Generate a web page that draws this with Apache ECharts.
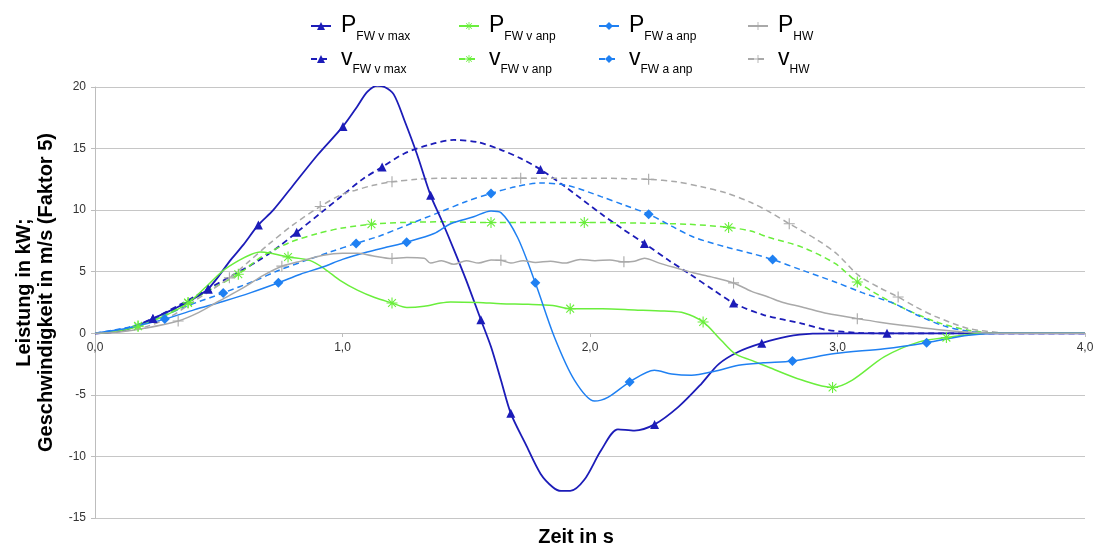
<!DOCTYPE html>
<html>
<head>
<meta charset="utf-8">
<script src="https://cdn.jsdelivr.net/npm/echarts@6/dist/echarts.min.js"></script>
<style>
  html, body { margin: 0; padding: 0; background: #fff; }
  #chart { width: 1094px; height: 544px; }
</style>
</head>
<body>
<div id="chart"></div>
<script>
// ── Daten ─────────────────────────────────────────────────────────
// [Zeit in s, Wert]
const pFwVmax = [[0,0],[0.05,0.05],[0.1,0.2],[0.17,0.6],[0.234,1.2],[0.3,1.8],[0.38,2.6],[0.457,3.6],[0.55,6.0],[0.6,7.2],[0.66,8.8],[0.72,10.0],[0.8,12.0],[0.9,14.5],[1.002,16.8],[1.059,18.4],[1.1,19.6],[1.14,20.1],[1.17,20.0],[1.207,19.4],[1.25,17.3],[1.3,14.6],[1.356,11.2],[1.4,9.2],[1.45,6.8],[1.5,4.3],[1.559,1.1],[1.6,-1.1],[1.64,-3.8],[1.68,-6.5],[1.74,-9.0],[1.8,-11.4],[1.85,-12.5],[1.883,-12.8],[1.92,-12.8],[1.977,-11.9],[2.045,-9.5],[2.113,-7.8],[2.18,-7.9],[2.261,-7.4],[2.356,-6.0],[2.45,-4.1],[2.52,-2.5],[2.6,-1.5],[2.694,-0.8],[2.8,-0.25],[2.9,-0.03],[3.0,0],[3.2,0],[3.6,0],[4.0,0]];
const pFwVmaxMarks = [0.234,0.457,0.66,1.002,1.356,1.559,1.68,2.261,2.694,3.2];

const vFwVmax = [[0,0],[0.1,0.2],[0.234,1.2],[0.35,2.4],[0.457,3.6],[0.6,5.2],[0.653,5.8],[0.74,7.0],[0.815,8.2],[0.92,9.9],[1.0,11.2],[1.08,12.5],[1.16,13.5],[1.25,14.6],[1.35,15.3],[1.45,15.7],[1.55,15.5],[1.64,14.9],[1.72,14.2],[1.8,13.3],[1.9,11.9],[2.045,9.7],[2.13,8.5],[2.22,7.3],[2.32,5.9],[2.4,4.85],[2.5,3.5],[2.58,2.46],[2.7,1.5],[2.856,0.79],[2.95,0.3],[3.09,0.03],[3.2,0],[4.0,0]];
const vFwVmaxMarks = [0.234,0.457,0.815,1.16,1.8,2.22,2.58];

const pFwVanp = [[0,0],[0.08,0.15],[0.174,0.57],[0.28,1.4],[0.376,2.46],[0.45,3.8],[0.518,5.1],[0.58,5.9],[0.63,6.4],[0.667,6.6],[0.71,6.5],[0.78,6.2],[0.87,5.9],[0.93,5.2],[0.99,4.3],[1.06,3.5],[1.13,2.9],[1.2,2.46],[1.26,2.1],[1.33,2.2],[1.396,2.46],[1.437,2.55],[1.55,2.5],[1.64,2.4],[1.75,2.35],[1.85,2.25],[1.92,2.0],[2.05,2.0],[2.18,1.9],[2.3,1.8],[2.38,1.65],[2.457,0.92],[2.53,-0.57],[2.585,-1.65],[2.653,-2.2],[2.72,-2.74],[2.856,-3.8],[2.98,-4.4],[3.06,-3.8],[3.19,-1.9],[3.33,-0.7],[3.44,-0.35],[3.6,0],[4.0,0]];
const pFwVanpMarks = [0.174,0.376,0.78,1.2,1.92,2.457,2.98,3.44];

const vFwVanp = [[0,0],[0.08,0.15],[0.174,0.6],[0.28,1.5],[0.376,2.5],[0.48,3.7],[0.579,4.8],[0.68,6.3],[0.79,7.4],[0.9,8.1],[1.0,8.55],[1.117,8.86],[1.25,9.0],[1.396,9.05],[1.6,9.0],[1.8,9.0],[1.977,9.0],[2.2,8.95],[2.4,8.85],[2.56,8.6],[2.65,8.3],[2.72,7.8],[2.856,7.0],[2.99,5.67],[3.08,4.17],[3.23,2.4],[3.4,0.92],[3.53,0.24],[3.64,0.02],[3.75,0],[4.0,0]];
const vFwVanpMarks = [0.174,0.376,0.579,1.117,1.6,1.977,2.56,3.08];

const pFwAanp = [[0,0],[0.1,0.3],[0.2,0.75],[0.282,1.15],[0.4,1.9],[0.52,2.6],[0.63,3.3],[0.741,4.1],[0.83,4.8],[0.923,5.4],[1.0,6.0],[1.1,6.6],[1.18,7.0],[1.259,7.4],[1.37,8.1],[1.437,8.9],[1.53,9.46],[1.6,9.94],[1.64,9.8],[1.707,7.8],[1.779,4.1],[1.856,-0.3],[1.937,-3.8],[2.018,-5.5],[2.072,-5.2],[2.16,-3.96],[2.26,-3.0],[2.33,-3.3],[2.41,-3.4],[2.5,-3.1],[2.6,-2.6],[2.7,-2.4],[2.818,-2.25],[2.99,-1.65],[3.19,-1.25],[3.36,-0.76],[3.53,-0.16],[3.66,0],[4.0,0]];
const pFwAanpMarks = [0.282,0.741,1.259,1.779,2.16,2.818,3.36];

const vFwAanp = [[0,0],[0.135,0.5],[0.25,1.2],[0.37,2.2],[0.518,3.28],[0.65,4.3],[0.741,5.1],[0.85,5.9],[0.95,6.6],[1.055,7.3],[1.15,7.9],[1.25,8.7],[1.396,9.86],[1.5,10.7],[1.6,11.36],[1.7,11.9],[1.8,12.2],[1.91,12.0],[2.045,11.1],[2.14,10.4],[2.237,9.67],[2.33,8.7],[2.42,7.8],[2.55,7.0],[2.653,6.48],[2.738,5.99],[2.86,5.1],[2.99,4.17],[3.1,3.3],[3.23,2.4],[3.33,1.4],[3.43,0.6],[3.53,0.16],[3.64,0],[4.0,0]];
const vFwAanpMarks = [0.518,1.055,1.6,2.237,2.738];

const pHw = [[0,0],[0.1,0.1],[0.2,0.4],[0.336,1.0],[0.42,1.7],[0.5,2.6],[0.6,3.7],[0.68,4.7],[0.755,5.45],[0.84,5.9],[0.923,6.34],[1.0,6.5],[1.06,6.5],[1.12,6.3],[1.2,6.07],[1.26,6.15],[1.33,6.1],[1.356,5.7],[1.4,5.9],[1.45,5.6],[1.5,5.9],[1.55,5.7],[1.6,5.95],[1.64,5.93],[1.68,5.7],[1.73,5.9],[1.78,5.75],[1.84,5.85],[1.9,5.7],[1.96,6.0],[2.02,5.9],[2.08,5.95],[2.137,5.8],[2.18,5.85],[2.22,6.1],[2.28,5.7],[2.356,5.26],[2.42,4.9],[2.49,4.58],[2.58,4.09],[2.653,3.4],[2.72,2.95],[2.78,2.5],[2.856,2.14],[2.96,1.6],[3.08,1.19],[3.17,0.9],[3.26,0.65],[3.4,0.3],[3.5,0.12],[3.6,0.03],[3.7,0],[4.0,0]];
const pHwMarks = [0.336,0.755,1.2,1.64,2.137,2.58,3.08];

const vHw = [[0,0],[0.1,0.15],[0.2,0.5],[0.3,1.3],[0.4,2.6],[0.543,4.5],[0.62,5.8],[0.7,7.2],[0.8,8.8],[0.91,10.3],[1.0,11.3],[1.05,11.6],[1.12,12.0],[1.2,12.3],[1.3,12.5],[1.396,12.6],[1.72,12.6],[2.0,12.6],[2.237,12.5],[2.35,12.3],[2.45,11.9],[2.55,11.4],[2.653,10.6],[2.73,9.8],[2.805,8.9],[2.92,7.56],[3.0,6.4],[3.085,4.7],[3.17,3.7],[3.245,2.95],[3.32,2.1],[3.4,1.33],[3.53,0.38],[3.66,0.05],[3.72,0],[4.0,0]];
const vHwMarks = [0.543,0.91,1.2,1.72,2.237,2.805,3.245];

const yTicks = { min: -15, max: 20, step: 5 };
const xTicks = { min: 0, max: 4, step: 1 };

// ── Symbole ──────────────────────────────────────────────────────
const PLUS = 'path://M4.5,0h1v10h-1z M0,4.5h10v1h-10z';
const STAR = 'path://M4.5,0h1v10h-1z M0,4.5h10v1h-10z M1.1,1.8L1.8,1.1L8.9,8.2L8.2,8.9z M8.9,1.8L1.8,8.9L1.1,8.2L8.2,1.1z';

const C_DARK = '#1c1cb8';
const C_GREEN = '#6aee3c';
const C_BLUE = '#1f80f2';
const C_GRAY = '#a9a9a9';
const FONT = '"Liberation Sans", Arial, sans-serif';

// Plotbereich
const GRID = { left: 95, right: 9, top: 87, bottom: 26 };
const plotH = 544 - GRID.top - GRID.bottom;
// x-Achse sitzt bei y = 0 (wie im Original), als Versatz von unten
const xAxisOffset = -Math.round(plotH * (0 - yTicks.min) / (yTicks.max - yTicks.min));

function mkSeries(name, pts, marks, color, dashed, symbol, size, width) {
  return {
    name,
    type: 'line',
    smooth: 0.3,
    showSymbol: true,
    showAllSymbol: true,
    symbol,
    symbolSize: size,
    lineStyle: { color, width, type: dashed ? [6, 4] : 'solid' },
    itemStyle: { color, borderWidth: 0 },
    emphasis: { disabled: true },
    z: dashed ? 2 : 3,
    data: pts.map(p => marks.includes(p[0]) ? { value: p } : { value: p, symbol: 'none' })
  };
}

const series = [
  mkSeries('P FW v max', pFwVmax, pFwVmaxMarks, C_DARK, false, 'triangle', 9, 1.8),
  mkSeries('v FW v max', vFwVmax, vFwVmaxMarks, C_DARK, true, 'triangle', 9, 1.8),
  mkSeries('P FW v anp', pFwVanp, pFwVanpMarks, C_GREEN, false, STAR, 11, 1.5),
  mkSeries('v FW v anp', vFwVanp, vFwVanpMarks, C_GREEN, true, STAR, 11, 1.5),
  mkSeries('P FW a anp', pFwAanp, pFwAanpMarks, C_BLUE, false, 'diamond', 10, 1.5),
  mkSeries('v FW a anp', vFwAanp, vFwAanpMarks, C_BLUE, true, 'diamond', 10, 1.5),
  mkSeries('P HW', pHw, pHwMarks, C_GRAY, false, PLUS, 11, 1.5),
  mkSeries('v HW', vHw, vHwMarks, C_GRAY, true, PLUS, 11, 1.5)
];

// Legende: 2 Zeilen x 4 Spalten, P groß + Index klein
const legendCols = [310, 458, 598, 747];
const legendRows = [14, 47];
const legendOrder = [
  ['P FW v max', 'P FW v anp', 'P FW a anp', 'P HW'],
  ['v FW v max', 'v FW v anp', 'v FW a anp', 'v HW']
];
const legends = [];
legendOrder.forEach((row, r) => row.forEach((name, c) => {
  legends.push({
    data: [name],
    left: legendCols[c],
    top: legendRows[r],
    padding: 0,
    itemWidth: 20,
    itemHeight: 10,
    selectedMode: false,
    formatter: n => `{m|${n[0]}}{s|${n.slice(2)}}`,
    textStyle: {
      fontFamily: FONT,
      color: '#000',
      rich: {
        m: { fontSize: 23, lineHeight: 24, verticalAlign: 'top', padding: [0, 0, 0, 5], fontFamily: FONT, color: '#000' },
        s: { fontSize: 12, lineHeight: 12, verticalAlign: 'top', padding: [17, 0, 0, 0], fontFamily: FONT, color: '#000' }
      }
    }
  });
}));

const chart = echarts.init(document.getElementById('chart'), null, { renderer: 'canvas' });
chart.setOption({
  animation: false,
  backgroundColor: '#fff',
  textStyle: { fontFamily: FONT },
  legend: legends,
  grid: { ...GRID, containLabel: false, outerBoundsMode: 'none' },
  xAxis: {
    type: 'value',
    min: xTicks.min, max: xTicks.max, interval: xTicks.step,
    offset: xAxisOffset,
    name: 'Zeit in s',
    nameLocation: 'middle',
    nameGap: 194,
    nameTextStyle: { fontSize: 20, fontWeight: 'bold', color: '#000', fontFamily: FONT, padding: [0, 28, 0, 0] },
    axisLine: { onZero: false, lineStyle: { color: '#bdbdbd', width: 1 } },
    axisTick: { show: true, length: 4, lineStyle: { color: '#bdbdbd' } },
    axisLabel: { fontSize: 12, color: '#333', margin: 9, formatter: v => v.toFixed(1).replace('.', ',') },
    splitLine: { show: false }
  },
  yAxis: {
    type: 'value',
    min: yTicks.min, max: yTicks.max, interval: yTicks.step,
    name: 'Leistung in kW;\nGeschwindigkeit in m/s (Faktor 5)',
    nameLocation: 'middle',
    nameRotate: 90,
    nameGap: 37,
    nameTextStyle: { fontSize: 20, fontWeight: 'bold', color: '#000', fontFamily: FONT, lineHeight: 22, align: 'center', padding: [0, 0, 0, 20] },
    axisLine: { show: true, lineStyle: { color: '#bdbdbd', width: 1 } },
    axisTick: { show: true, length: 4, lineStyle: { color: '#bdbdbd' } },
    axisLabel: { fontSize: 12, color: '#333', margin: 9 },
    splitLine: { show: true, lineStyle: { color: '#c6c6c6', width: 1 } }
  },
  series
});
</script>
</body>
</html>
